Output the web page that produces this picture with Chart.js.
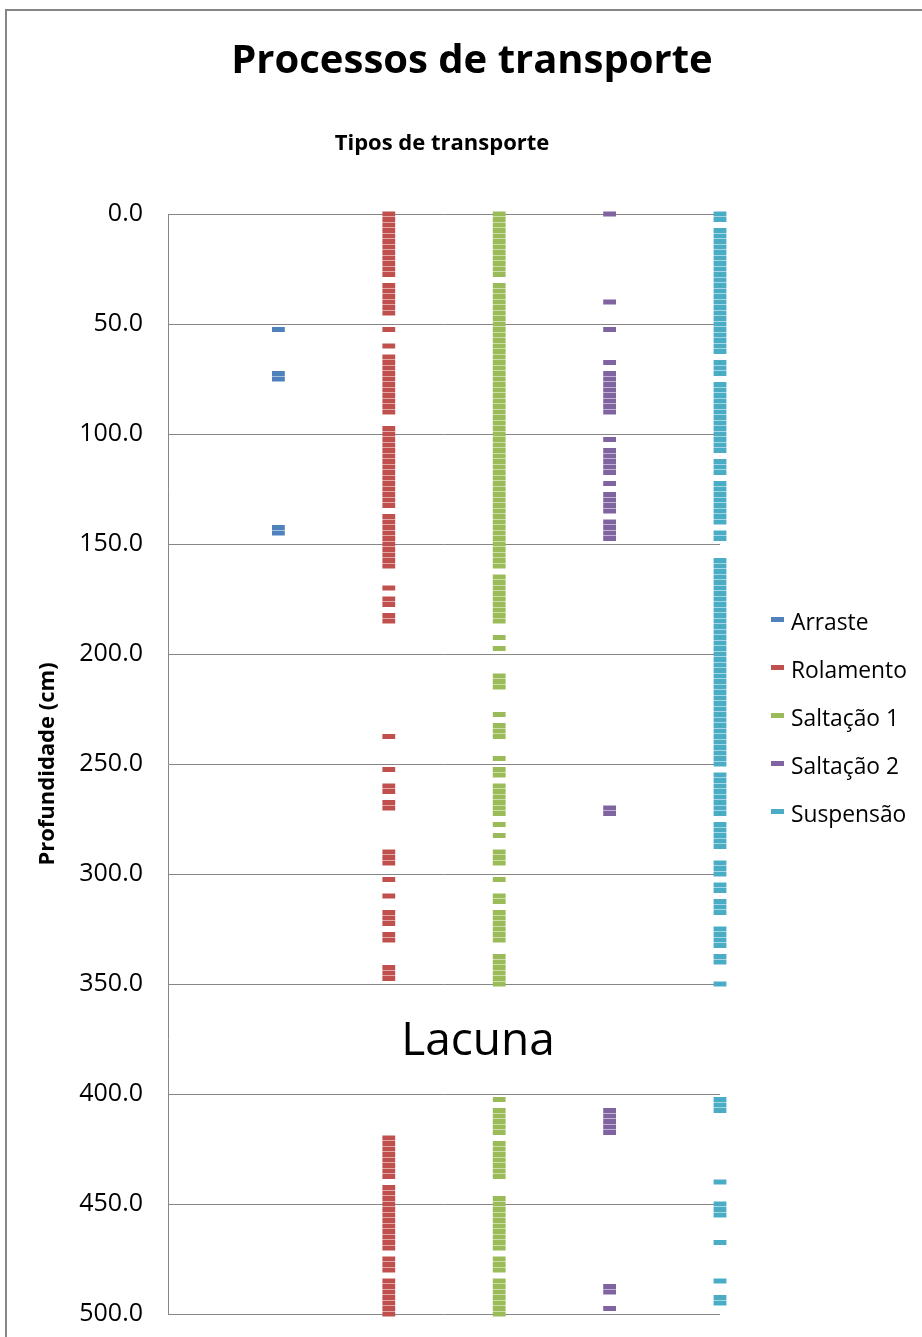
<!DOCTYPE html>
<html>
<head>
<meta charset="utf-8">
<script src="https://cdn.jsdelivr.net/npm/chart.js@4.4.1/dist/chart.umd.min.js"></script>
<style>
  html, body { margin: 0; padding: 0; background: #fff; }
  body { width: 922px; height: 1337px; position: relative; overflow: hidden; font-family: 'Open Sans', sans-serif; color: #000; }
  #frame { position: absolute; left: 5px; top: 9px; width: 1000px; height: 1400px; border: 2px solid #868686; box-sizing: border-box; }
  #chart { position: absolute; left: 0; top: 0; }
  .txt { position: absolute; white-space: nowrap; line-height: 1; }
  #title { left: 0; width: 944px; top: 38px; text-align: center; font-size: 40px; font-weight: 700; }
  #subtitle { left: 0; width: 884px; top: 130px; text-align: center; font-size: 22px; font-weight: 700; }
  #lacuna { left: 0; width: 956px; top: 1014px; text-align: center; font-size: 46px; }
  .leg { position: absolute; left: 771px; height: 24px; font-size: 22.8px; }
  .leg i { position: absolute; left: 0; top: 10px; width: 13px; height: 5px; }
  .leg span { position: absolute; left: 20px; top: -1px; white-space: nowrap; }
</style>
</head>
<body>
<div id="frame"></div>
<canvas id="chart" width="922" height="1337"></canvas>
<div class="txt" id="title">Processos de transporte</div>
<div class="txt" id="subtitle">Tipos de transporte</div>
<div class="txt" id="lacuna">Lacuna</div>
<div id="legend"></div>
<script>
// Categorias (colunas) e cores
const series = ['Arraste', 'Rolamento', 'Saltação 1', 'Saltação 2', 'Suspensão'];
const colors = ['#4f81bd', '#c0504d', '#9bbb59', '#8064a2', '#4bacc6'];

// Profundidades (cm)
const arraste = [52.5, 72.5, 75, 142.5, 145];

const rolamento = [0, 2.5, 5, 7.5, 10, 12.5, 15, 17.5, 20, 22.5, 25, 27.5, 32.5, 35, 37.5, 40, 42.5, 45,
  52.5, 60, 65, 67.5, 70, 72.5, 75, 77.5, 80, 82.5, 85, 87.5, 90,
  97.5, 100, 102.5, 105, 107.5, 110, 112.5, 115, 117.5, 120, 122.5, 125, 127.5, 130, 132.5,
  137.5, 140, 142.5, 145, 147.5, 150, 152.5, 155, 157.5, 160,
  170, 175, 177.5, 182.5, 185, 237.5, 252.5, 260, 262.5, 267.5, 270,
  290, 292.5, 295, 302.5, 310, 317.5, 320, 322.5, 327.5, 330, 342.5, 345, 347.5,
  420, 422.5, 425, 427.5, 430, 432.5, 435, 437.5, 442.5, 445, 447.5, 450, 452.5, 455, 457.5,
  460, 462.5, 465, 467.5, 470, 475, 477.5, 480, 485, 487.5, 490, 492.5, 495, 497.5, 500];

const saltacao1 = [0, 2.5, 5, 7.5, 10, 12.5, 15, 17.5, 20, 22.5, 25, 27.5,
  32.5, 35, 37.5, 40, 42.5, 45, 47.5, 50, 52.5, 55, 57.5, 60, 62.5, 65, 67.5, 70, 72.5, 75,
  77.5, 80, 82.5, 85, 87.5, 90, 92.5, 95, 97.5, 100, 102.5, 105, 107.5, 110, 112.5, 115,
  117.5, 120, 122.5, 125, 127.5, 130, 132.5, 135, 137.5, 140, 142.5, 145, 147.5, 150,
  152.5, 155, 157.5, 160, 165, 167.5, 170, 172.5, 175, 177.5, 180, 182.5, 185,
  192.5, 197.5, 210, 212.5, 215, 227.5, 232.5, 235, 237.5, 247.5, 252.5, 255,
  260, 262.5, 265, 267.5, 270, 272.5, 277.5, 282.5, 290, 292.5, 295, 302.5, 310, 312.5,
  317.5, 320, 322.5, 325, 327.5, 330, 337.5, 340, 342.5, 345, 347.5, 350,
  402.5, 407.5, 410, 412.5, 415, 417.5, 422.5, 425, 427.5, 430, 432.5, 435, 437.5,
  447.5, 450, 452.5, 455, 457.5, 460, 462.5, 465, 467.5, 470, 475, 477.5, 480,
  485, 487.5, 490, 492.5, 495, 497.5, 500];

const saltacao2 = [0, 40, 52.5, 67.5, 72.5, 75, 77.5, 80, 82.5, 85, 87.5, 90,
  102.5, 107.5, 110, 112.5, 115, 117.5, 122.5, 127.5, 130, 132.5, 135,
  140, 142.5, 145, 147.5, 270, 272.5, 407.5, 410, 412.5, 415, 417.5, 487.5, 490, 497.5];

const suspensao = [0, 2.5, 7.5, 10, 12.5, 15, 17.5, 20, 22.5, 25, 27.5, 30, 32.5, 35, 37.5,
  40, 42.5, 45, 47.5, 50, 52.5, 55, 57.5, 60, 62.5, 67.5, 70, 72.5,
  77.5, 80, 82.5, 85, 87.5, 90, 92.5, 95, 97.5, 100, 102.5, 105, 107.5,
  112.5, 115, 117.5, 122.5, 125, 127.5, 130, 132.5, 135, 137.5, 140, 145, 147.5,
  157.5, 160, 162.5, 165, 167.5, 170, 172.5, 175, 177.5, 180, 182.5, 185, 187.5, 190,
  192.5, 195, 197.5, 200, 202.5, 205, 207.5, 210, 212.5, 215, 217.5, 220, 222.5, 225,
  227.5, 230, 232.5, 235, 237.5, 240, 242.5, 245, 247.5, 250,
  255, 257.5, 260, 262.5, 265, 267.5, 270, 272.5, 277.5, 280, 282.5, 285, 287.5,
  295, 297.5, 300, 305, 307.5, 312.5, 315, 317.5, 325, 327.5, 330, 332.5, 337.5, 340, 350,
  402.5, 405, 407.5, 440, 450, 452.5, 455, 467.5, 485, 492.5, 495];

const depthData = [arraste, rolamento, saltacao1, saltacao2, suspensao];
const yTicks = [0, 50, 100, 150, 200, 250, 300, 350, 400, 450, 500];

Chart.defaults.font.family = "'Open Sans', sans-serif";
Chart.defaults.color = '#000';

const datasets = series.map((name, i) => ({
  label: name,
  data: depthData[i].map(d => ({ x: i + 1, y: d })),
  pointStyle: 'line',
  pointRadius: 6.4,
  pointHoverRadius: 6.4,
  pointBorderWidth: 5,
  pointBorderColor: colors[i],
  pointBackgroundColor: colors[i],
  showLine: false,
  clip: false
}));

new Chart(document.getElementById('chart'), {
  type: 'scatter',
  data: { datasets },
  options: {
    responsive: false,
    animation: false,
    events: [],
    layout: { padding: { left: 0, top: 214, right: 202, bottom: 23 } },
    plugins: { legend: { display: false }, tooltip: { enabled: false } },
    scales: {
      x: { type: 'linear', min: 0, max: 5, display: false },
      y: {
        type: 'linear',
        reverse: true,
        min: 0,
        max: 500,
        afterFit: s => { s.width = 168; },
        afterBuildTicks: s => { s.ticks = yTicks.map(v => ({ value: v })); },
        ticks: {
          padding: 3,
          font: { size: 25 },
          color: '#000',
          callback: v => Number(v).toFixed(1)
        },
        grid: { color: '#868686', lineWidth: 1, tickLength: 22, tickColor: 'rgba(0,0,0,0)' },
        border: { color: '#868686', width: 1 },
        title: {
          display: true,
          text: 'Profundidade (cm)',
          font: { size: 22, weight: 'bold' },
          color: '#000',
          padding: { top: 35, bottom: 0 }
        }
      }
    }
  }
});

// Legenda
const legend = document.getElementById('legend');
series.forEach((name, i) => {
  const item = document.createElement('div');
  item.className = 'leg';
  item.style.top = (607 + i * 48) + 'px';
  item.innerHTML = `<i style="background:${colors[i]}"></i><span>${name}</span>`;
  legend.appendChild(item);
});
</script>
</body>
</html>
